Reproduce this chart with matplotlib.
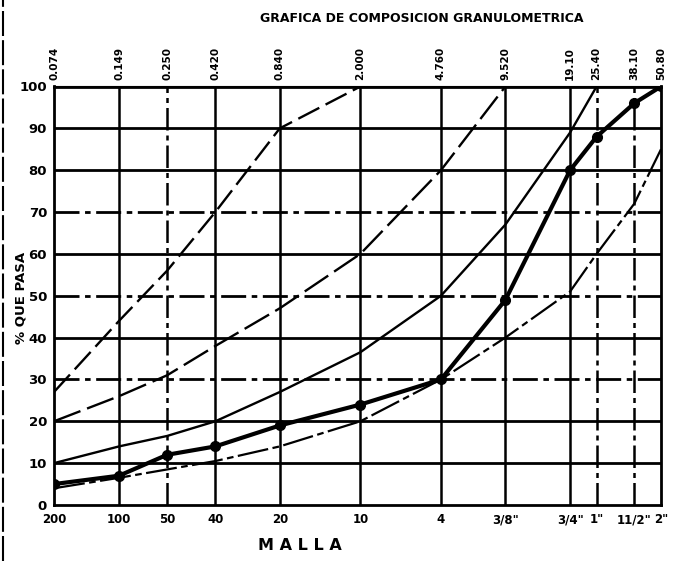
import numpy as np
import matplotlib
matplotlib.use('Agg')
import matplotlib.pyplot as plt
from matplotlib.lines import Line2D

plt.rc('font', family='DejaVu Sans', weight='bold')

# sieve openings (mm) and their names
abertura = [0.074, 0.149, 0.250, 0.420, 0.840, 2.000, 4.760, 9.520, 19.10, 25.40, 38.10, 50.80]
abertura_txt = ['0.074', '0.149', '0.250', '0.420', '0.840', '2.000', '4.760', '9.520',
                '19.10', '25.40', '38.10', '50.80']
malla = ['200', '100', '50', '40', '20', '10', '4', '3/8"', '3/4"', '1"', '11/2"', '2"']
pct_ticks = list(range(0, 101, 10))

# % que pasa for each curve
curva_a = [27, 44, 56, 70, 90, 100]
curva_b = [20, 26, 31, 38, 47, 60, 80, 100]
curva_c = [10, 14, 16.5, 20, 27, 36.5, 50, 67, 89, 100]
curva_d = [5, 7, 12, 14, 19, 24, 30, 49, 80, 88, 96, 100]
curva_e = [4, 6.5, 8.5, 10.5, 14, 20, 30, 40, 51, 60, 72, 85]

fig = plt.figure(figsize=(6.81, 5.61), dpi=100)
ax = fig.add_axes([54/681, 1 - 505/561, (661 - 54)/681, (505 - 86.5)/561])
ax.set_xscale('log')
ax.set_xlim(abertura[0], abertura[-1])
ax.set_ylim(0, 100)

# grid
dashdot = (0, (9, 2, 2, 2))
for v in pct_ticks[1:-1]:
    ls = dashdot if v in (30, 50, 70) else '-'
    ax.axhline(v, color='black', lw=2.0, ls=ls, zorder=1)
for i, a in enumerate(abertura[1:-1], start=1):
    ls = dashdot if malla[i] in ('50', '1"', '11/2"') else '-'
    ax.axvline(a, color='black', lw=1.8, ls=ls, zorder=1)
for s in ax.spines.values():
    s.set_linewidth(2.0)

# curves
ax.plot(abertura[:len(curva_a)], curva_a, color='black', lw=1.7, ls=(0, (10, 3)), zorder=3)
ax.plot(abertura[:len(curva_b)], curva_b, color='black', lw=1.7, ls=(0, (12, 3)), zorder=3)
ax.plot(abertura[:len(curva_c)], curva_c, color='black', lw=1.7, zorder=3)
ax.plot(abertura, curva_e, color='black', lw=1.6, ls=(0, (14, 2, 3, 2)), zorder=3)
ax.plot(abertura, curva_d, color='black', lw=3.0, marker='o', ms=7, zorder=4)

# bottom axis: sieve numbers
ax.set_xticks(abertura)
ax.set_xticklabels(malla, fontsize=8.5, fontweight='heavy')
ax.xaxis.set_minor_locator(matplotlib.ticker.NullLocator())
ax.tick_params(axis='x', length=0, pad=6)
ax.set_yticks(pct_ticks)
ax.set_yticklabels([str(v) for v in pct_ticks], fontsize=9.5, fontweight='heavy')
ax.tick_params(axis='y', length=0, pad=5)

# top axis: openings in mm
top = ax.secondary_xaxis('top')
top.set_xticks(abertura)
top.set_xticklabels(abertura_txt, rotation=90, fontsize=7.5, fontweight='bold')
top.xaxis.set_minor_locator(matplotlib.ticker.NullLocator())
top.tick_params(length=0, pad=5)

fig.text(422/681, 1 - 18/561, 'GRAFICA DE COMPOSICION GRANULOMETRICA',
         ha='center', va='center', fontsize=9, fontweight='heavy')
fig.text(21/681, 1 - 298/561, '% QUE PASA', rotation=90,
         ha='center', va='center', fontsize=9.5, fontweight='heavy')
fig.text(300/681, 1 - 545/561, 'M A L L A',
         ha='center', va='center', fontsize=11.5, fontweight='heavy')

# page edge
fig.add_artist(Line2D([0.004, 0.004], [0, 1], color='black', lw=1.5,
                      ls=(0, (12, 2)), transform=fig.transFigure))

fig.savefig('out.png', dpi=100)
